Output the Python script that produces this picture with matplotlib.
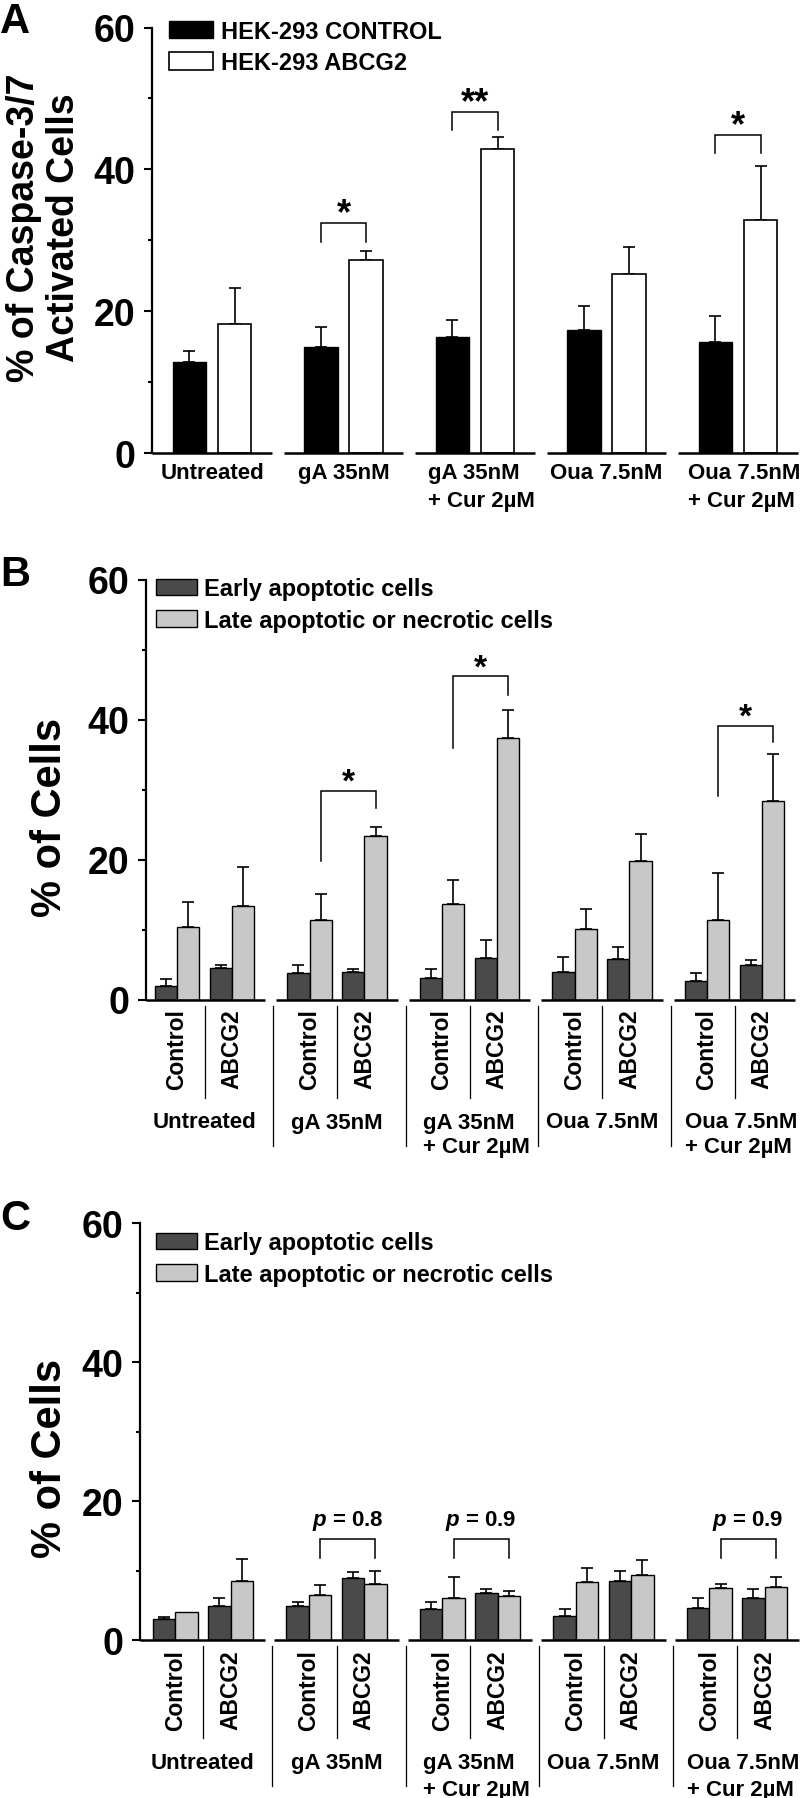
import numpy as np
import matplotlib
matplotlib.use('Agg')
import matplotlib.pyplot as plt

plt.rcParams['font.family'] = ['Liberation Sans', 'DejaVu Sans']
plt.rcParams['font.weight'] = 'bold'
plt.rcParams['mathtext.fontset'] = 'custom'
plt.rcParams['mathtext.it'] = 'Liberation Sans:italic:bold'
plt.rcParams['mathtext.rm'] = 'Liberation Sans:bold'

# ---- data ----
groups = ['Untreated', 'gA 35nM', 'gA 35nM\n+ Cur 2\u00b5M', 'Oua 7.5nM', 'Oua 7.5nM\n+ Cur 2\u00b5M']
cells = ['Control', 'ABCG2']

# panel A: % caspase-3/7 activated cells (mean, upper error)
a_control = [12.8, 15.0, 16.4, 17.4, 15.7]
a_control_err = [1.6, 2.8, 2.4, 3.3, 3.6]
a_abcg2 = [18.2, 27.2, 42.9, 25.3, 32.9]
a_abcg2_err = [5.0, 1.3, 1.7, 3.8, 7.6]
a_sig_groups = [1, 2, 4]
a_sig_labels = ['*', '**', '*']
a_sig_top = [32.5, 48.1, 44.9]
a_sig_legs = [(29.8, 29.8), (45.5, 45.5), (42.3, 42.3)]

# panel B
b_early_ctrl = [2.0, 3.8, 3.1, 4.0, 2.6]
b_early_ctrl_err = [1.0, 1.2, 1.2, 2.1, 1.2]
b_late_ctrl = [10.4, 11.3, 13.6, 10.1, 11.3]
b_late_ctrl_err = [3.6, 3.8, 3.5, 2.9, 6.8]
b_early_abcg2 = [4.5, 4.0, 6.0, 5.8, 4.9]
b_early_abcg2_err = [0.5, 0.4, 2.5, 1.7, 0.8]
b_late_abcg2 = [13.4, 23.4, 37.3, 19.8, 28.3]
b_late_abcg2_err = [5.5, 1.3, 4.1, 3.8, 6.8]
b_sig_groups = [1, 2, 4]
b_sig_labels = ['*', '*', '*']
b_sig_top = [29.8, 46.2, 39.1]
b_sig_legs = [(19.8, 27.3), (35.9, 43.5), (29.1, 36.8)]

# panel C
c_early_ctrl = [3.0, 4.9, 4.5, 3.4, 4.6]
c_early_ctrl_err = [0.25, 0.5, 1.0, 1.1, 1.5]
c_late_ctrl = [4.1, 6.5, 6.1, 8.3, 7.5]
c_late_ctrl_err = [0.0, 1.4, 3.0, 2.0, 0.6]
c_early_abcg2 = [4.9, 8.9, 6.8, 8.5, 6.1]
c_early_abcg2_err = [1.1, 0.9, 0.6, 1.5, 1.2]
c_late_abcg2 = [8.5, 8.1, 6.4, 9.3, 7.6]
c_late_abcg2_err = [3.1, 1.9, 0.6, 2.2, 1.5]
c_sig_groups = [1, 2, 4]
c_sig_labels = ['$\\it{p}$ = 0.8', '$\\it{p}$ = 0.9', '$\\it{p}$ = 0.9']
c_sig_top = [14.5, 14.5, 14.5]
c_sig_legs = [(11.8, 11.8), (11.8, 11.8), (11.8, 11.8)]

W, H = 800, 1799
fig = plt.figure(figsize=(W / 100, H / 100), dpi=100)

DARK = '#4a4a4a'
LIGHT = '#c8c8c8'


def px_axes(left, zero_y, top_y):
    return fig.add_axes([left / W, 1 - zero_y / H, (W - left) / W, (zero_y - top_y) / H])


def setup(ax, xlim, half, zero_y, top_y):
    ax.set_xlim(xlim)
    ax.set_ylim(0, 60)
    for s in ['top', 'right', 'bottom']:
        ax.spines[s].set_visible(False)
    ax.spines['left'].set_linewidth(1.6)
    ax.set_xticks([])
    ax.set_yticks([0, 20, 40, 60])
    ax.set_yticks([10, 30, 50], minor=True)
    ax.tick_params(axis='y', which='major', length=6, width=1.5, pad=6, labelsize=27)
    ax.tick_params(axis='y', which='minor', length=3, width=1.5)
    for lab in ax.get_yticklabels():
        lab.set_fontweight('bold')
    # broken x axis, one piece per group
    for i in range(len(groups)):
        x0 = xlim[0] if i == 0 else i - half
        x1 = min(i + half, xlim[1])
        ax.plot([x0, x1], [0, 0], color='black', lw=1.8, clip_on=False,
                solid_capstyle='butt', zorder=5)
    return (zero_y - top_y) / 60.0


def errbars(ax, x, vals, errs):
    x = np.asarray(x); vals = np.asarray(vals); errs = np.asarray(errs)
    m = errs > 0
    ax.errorbar(x[m], vals[m], yerr=[np.zeros(m.sum()), errs[m]], fmt='none',
                ecolor='black', elinewidth=1.2, capsize=4, capthick=1.2, zorder=1)


def bracket(ax, x1, x2, top, legs, text, size, gap):
    ax.plot([x1, x1, x2, x2], [legs[0], top, top, legs[1]], color='black', lw=1.1,
            solid_joinstyle='miter')
    ax.text((x1 + x2) / 2, top + gap, text, ha='center', va='bottom', fontsize=size,
            fontweight='bold')


# ---------------- panel A ----------------
zA, tA = 454, 28.5
spA, c0A = 131.5, 212
xlimA = ((152 - c0A) / spA, (W - c0A) / spA)
axA = px_axes(152, zA, tA)
ppuA = setup(axA, xlimA, 0.456, zA, tA)
x = np.arange(len(groups))
wA = 0.255
offA = 0.172
bA1 = axA.bar(x - offA, a_control, wA, color='black', edgecolor='black', lw=1, zorder=2,
              label='HEK-293 CONTROL')
bA2 = axA.bar(x + offA, a_abcg2, wA, color='white', edgecolor='black', lw=1.2, zorder=2,
              label='HEK-293 ABCG2')
errbars(axA, x - offA, a_control, a_control_err)
errbars(axA, x + offA, a_abcg2, a_abcg2_err)
for g, lab, top, legs in zip(a_sig_groups, a_sig_labels, a_sig_top, a_sig_legs):
    bracket(axA, g - offA, g + offA, top, legs, lab, 26, -1.2)
for i, gname in enumerate(groups):
    axA.text(i + (0.05 if '\n' in gname else 0), -9 / ppuA, gname, ha='center', va='top',
             fontsize=16, fontweight='bold', multialignment='left', linespacing=1.45)
axA.legend(handles=[bA1, bA2], loc='upper left', bbox_to_anchor=((169 - 152) / (W - 152), 1.018),
           frameon=False, fontsize=17, handlelength=1.85, handleheight=0.75,
           handletextpad=0.35, labelspacing=0.35, borderpad=0, borderaxespad=0)
fig.text(44 / W, 1 - 228 / H, '% of Caspase-3/7\nActivated Cells', rotation=90,
         ha='center', va='center', fontsize=27, fontweight='bold', linespacing=1.12)
fig.text(0 / W, 1 - 22 / H, 'A', ha='left', va='center', fontsize=30, fontweight='bold')


# ---------------- panels B and C ----------------
def panel_bc(left, zero_y, top_y, c0, sp, half, data, sig, letter, ylab_y, leg_y, lspace):
    early_c, early_c_e, late_c, late_c_e, early_a, early_a_e, late_a, late_a_e = data
    sig_groups, sig_labels, sig_top, sig_legs, sig_size, sig_gap = sig
    xlim = ((left - c0) / sp, (W - c0) / sp)
    ax = px_axes(left, zero_y, top_y)
    ppu = setup(ax, xlim, half, zero_y, top_y)
    x = np.arange(len(groups))
    w = 0.168
    pair = 0.207
    be = ax.bar(x - pair - w / 2, early_c, w, color=DARK, edgecolor='black', lw=1, zorder=2,
                label='Early apoptotic cells')
    bl = ax.bar(x - pair + w / 2, late_c, w, color=LIGHT, edgecolor='black', lw=1, zorder=2,
                label='Late apoptotic or necrotic cells')
    ax.bar(x + pair - w / 2, early_a, w, color=DARK, edgecolor='black', lw=1, zorder=2)
    ax.bar(x + pair + w / 2, late_a, w, color=LIGHT, edgecolor='black', lw=1, zorder=2)
    errbars(ax, x - pair - w / 2, early_c, early_c_e)
    errbars(ax, x - pair + w / 2, late_c, late_c_e)
    errbars(ax, x + pair - w / 2, early_a, early_a_e)
    errbars(ax, x + pair + w / 2, late_a, late_a_e)
    for g, lab, top, legs in zip(sig_groups, sig_labels, sig_top, sig_legs):
        bracket(ax, g - pair + w / 2, g + pair + w / 2, top, legs, lab, sig_size, sig_gap)
    for i, gname in enumerate(groups):
        ax.text(i - pair, -9 / ppu, cells[0], rotation=90, ha='center', va='top',
                fontsize=16.5, fontweight='bold')
        ax.text(i + pair, -9 / ppu, cells[1], rotation=90, ha='center', va='top',
                fontsize=16.5, fontweight='bold')
        ax.plot([i, i], [-6 / ppu, -98 / ppu], color='black', lw=0.9, clip_on=False)
        if i > 0:
            ax.plot([i - 0.48, i - 0.48], [-6 / ppu, -146 / ppu], color='black', lw=0.9,
                    clip_on=False)
        ax.text(i + (0.05 if '\n' in gname else 0), -112 / ppu, gname, ha='center', va='top',
                fontsize=16, fontweight='bold', multialignment='left', linespacing=lspace)
    ax.legend(handles=[be, bl], loc='upper left',
              bbox_to_anchor=((156 - left) / (W - left), leg_y),
              frameon=False, fontsize=17, handlelength=1.75, handleheight=0.7,
              handletextpad=0.3, labelspacing=0.35, borderpad=0, borderaxespad=0)
    fig.text(50 / W, 1 - ylab_y / H, '% of Cells', rotation=90, ha='center', va='center',
             fontsize=30, fontweight='bold')
    fig.text(0 / W, 1 - (top_y - 5) / H, letter, ha='left', va='center', fontsize=30,
             fontweight='bold')
    return ax


panel_bc(146, 1000.5, 580.5, 204.5, 132.5, 0.457,
         (b_early_ctrl, b_early_ctrl_err, b_late_ctrl, b_late_ctrl_err,
          b_early_abcg2, b_early_abcg2_err, b_late_abcg2, b_late_abcg2_err),
         (b_sig_groups, b_sig_labels, b_sig_top, b_sig_legs, 24, -1.0), 'B', 817, 1.005, 1.2)

panel_bc(140, 1641, 1224, 203, 133.5, 0.465,
         (c_early_ctrl, c_early_ctrl_err, c_late_ctrl, c_late_ctrl_err,
          c_early_abcg2, c_early_abcg2_err, c_late_abcg2, c_late_abcg2_err),
         (c_sig_groups, c_sig_labels, c_sig_top, c_sig_legs, 16, 1.0), 'C', 1458, 0.98, 1.35)

fig.savefig('out.png', dpi=100)
